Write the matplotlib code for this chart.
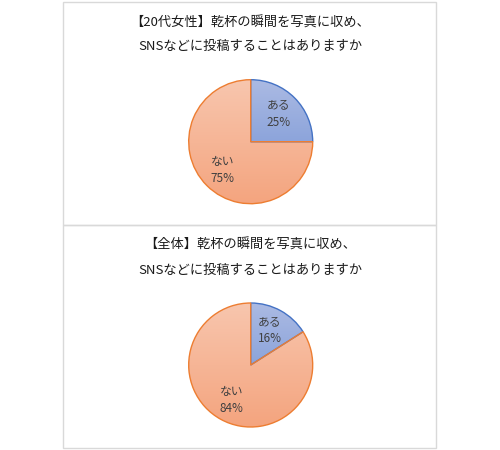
import matplotlib
matplotlib.use("Agg")
import matplotlib.pyplot as plt
import numpy as np
from matplotlib.colors import to_rgb
from matplotlib.patches import Rectangle

plt.rcParams['font.family'] = ['Noto Sans CJK JP', 'DejaVu Sans']

categories = ['ある', 'ない']
values_20s = [25, 75]
values_all = [16, 84]
title_20s = ['【20代女性】乾杯の瞬間を写真に収め、', 'SNSなどに投稿することはありますか']
title_all = ['【全体】乾杯の瞬間を写真に収め、', 'SNSなどに投稿することはありますか']

edge_colors = ['#4472C4', '#ED7D31']
grad_colors = [('#abbae3', '#8ca4db'), ('#f8c6ae', '#f4a47e')]

W, H = 500, 450
fig = plt.figure(figsize=(5, 4.5), dpi=100)
fig.patch.set_facecolor('white')

def px(x, y):
    return x / W, 1 - y / H

# chart boxes
for (y0, y1) in [(2, 225), (225, 448)]:
    x0, yy0 = px(63, y1)
    x1, yy1 = px(436, y0)
    fig.add_artist(Rectangle((x0, yy0), x1 - x0, yy1 - yy0, transform=fig.transFigure,
                             facecolor='none', edgecolor='#d9d9d9', linewidth=1.0))

def draw_pie(values, title, cy, ty1, ty2):
    r = 62
    cx = 250.7
    left, bottom = px(cx - r, cy + r)
    ax = fig.add_axes([left, bottom, 2 * r / W, 2 * r / H])
    labels = [f'{c}\n{v}%' for c, v in zip(categories, values)]
    wedges, texts = ax.pie(values, labels=labels, startangle=90, counterclock=False,
                           labeldistance=0.64,
                           wedgeprops=dict(linewidth=1.0),
                           textprops=dict(fontsize=8.5, color='#404040', ha='center', va='center',
                                          linespacing=1.45))
    for i, w in enumerate(wedges):
        w.set_facecolor('none')
        w.set_edgecolor(edge_colors[i])
        w.set_zorder(2)
        verts = w.get_path().interpolated(50).vertices
        xmin, ymin = verts.min(axis=0)
        xmax, ymax = verts.max(axis=0)
        c_top = np.array(to_rgb(grad_colors[i][0]))
        c_bot = np.array(to_rgb(grad_colors[i][1]))
        t = np.linspace(0, 1, 256)[:, None, None]
        img = c_top[None, None, :] * (1 - t) + c_bot[None, None, :] * t
        im = ax.imshow(img, extent=[xmin, xmax, ymin, ymax], origin='upper',
                       aspect='auto', zorder=1, interpolation='bilinear')
        im.set_clip_path(w)
    for tx in texts:
        tx.set_zorder(3)
    ax.set_xlim(-1, 1)
    ax.set_ylim(-1, 1)
    ax.set_aspect('equal')
    ax.axis('off')
    for line, ty in zip(title, (ty1, ty2)):
        fx, fy = px(250, ty)
        fig.text(fx, fy, line, ha='center', va='center', fontsize=9.5, color='#1a1a1a')

draw_pie(values_20s, title_20s, 141.7, 23.3, 46.7)
draw_pie(values_all, title_all, 365, 245, 270)

fig.savefig('out.png', dpi=100, facecolor='white')
